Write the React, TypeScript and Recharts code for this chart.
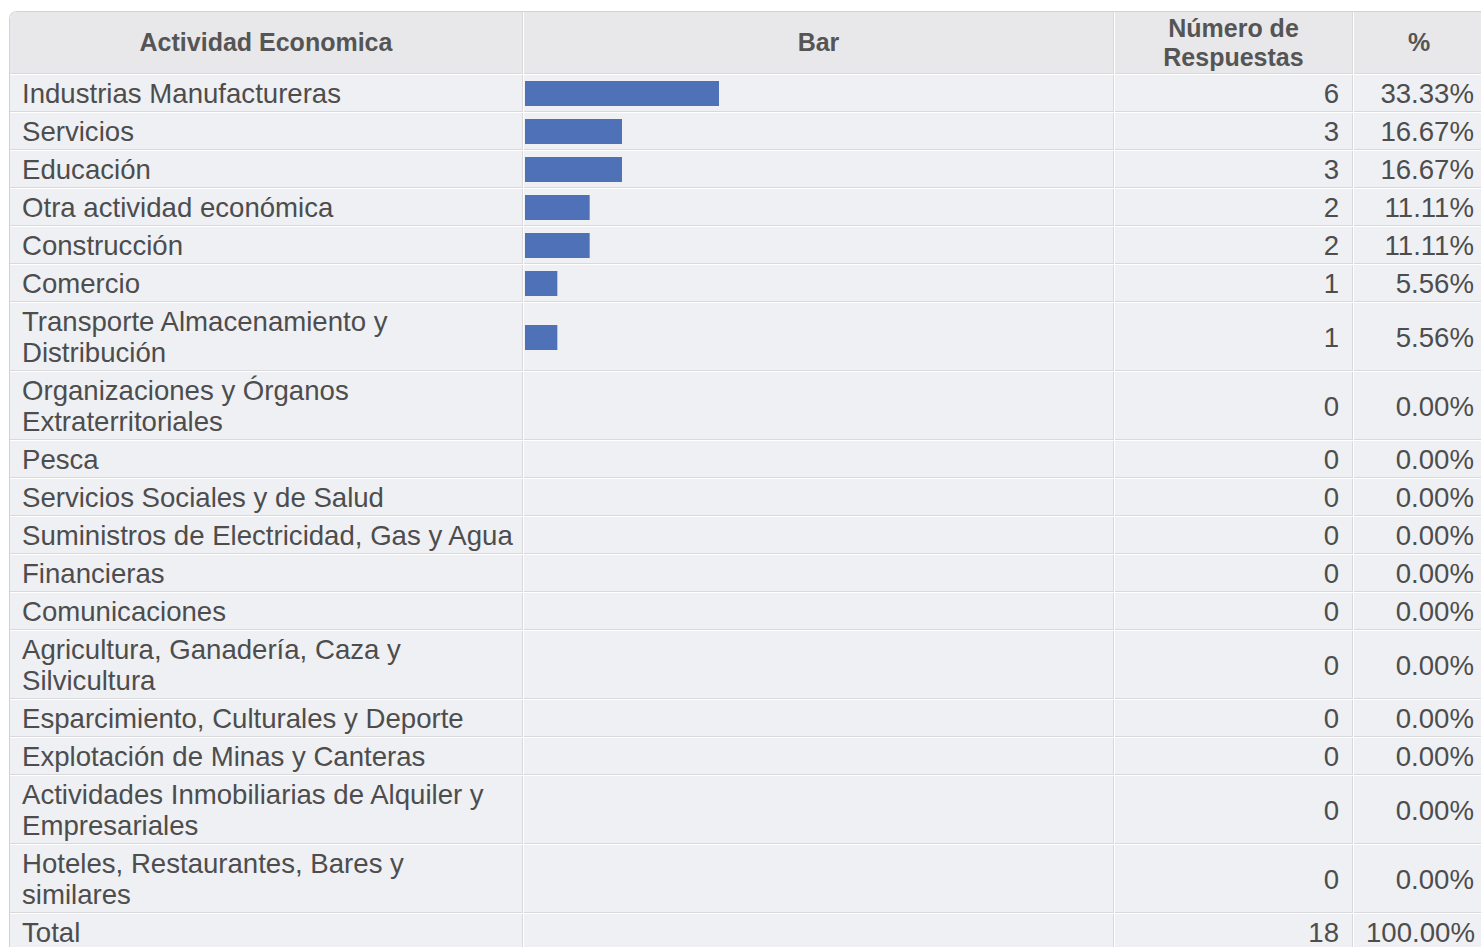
import React from "react";
import { BarChart, Bar, XAxis, YAxis } from "recharts";

const categorias = [
  "Industrias Manufactureras",
  "Servicios",
  "Educación",
  "Otra actividad económica",
  "Construcción",
  "Comercio",
  "Transporte Almacenamiento y Distribución",
  "Organizaciones y Órganos Extraterritoriales",
  "Pesca",
  "Servicios Sociales y de Salud",
  "Suministros de Electricidad, Gas y Agua",
  "Financieras",
  "Comunicaciones",
  "Agricultura, Ganadería, Caza y Silvicultura",
  "Esparcimiento, Culturales y Deporte",
  "Explotación de Minas y Canteras",
  "Actividades Inmobiliarias de Alquiler y Empresariales",
  "Hoteles, Restaurantes, Bares y similares",
];
const respuestas = [6, 3, 3, 2, 2, 1, 1, 0, 0, 0, 0, 0, 0, 0, 0, 0, 0, 0];
const porcentajes = [
  "33.33%", "16.67%", "16.67%", "11.11%", "11.11%", "5.56%", "5.56%",
  "0.00%", "0.00%", "0.00%", "0.00%", "0.00%", "0.00%", "0.00%",
  "0.00%", "0.00%", "0.00%", "0.00%",
];
const encabezados = ["Actividad Economica", "Bar", "Número de Respuestas", "%"];
const totalRespuestas = 18;
const totalPorcentaje = "100.00%";

const FONT = '"Liberation Sans", Arial, Helvetica, sans-serif';
const BAR_COLOR = "#4E71B8";
const CELL_BG = "#EFF0F4";
const HEAD_BG = "#E8E8EA";
const LINE = "#D9D9DC";

const colWidths = [513, 590, 238, 131];

const headCell: React.CSSProperties = {
  boxSizing: "border-box",
  height: 62,
  background: HEAD_BG,
  borderRight: `1px solid ${LINE}`,
  borderBottom: `1px solid ${LINE}`,
  fontWeight: "bold",
  fontSize: 25,
  lineHeight: "29px",
  color: "#555",
  textAlign: "center",
  verticalAlign: "middle",
  padding: "0 10px",
};

const bodyCell: React.CSSProperties = {
  boxSizing: "border-box",
  background: CELL_BG,
  borderRight: `1px solid ${LINE}`,
  borderBottom: `1px solid ${LINE}`,
  fontSize: 27.6,
  lineHeight: "31px",
  color: "#4d4d4d",
  padding: "3px 4px 2px 12px",
  verticalAlign: "middle",
};

function BarCell({ name, value }: { name: string; value: number }) {
  return (
    <BarChart
      width={582}
      height={31}
      layout="vertical"
      data={[{ name, value }]}
      margin={{ top: 0, right: 0, bottom: 0, left: 0 }}
    >
      <XAxis type="number" domain={[0, totalRespuestas]} hide />
      <YAxis type="category" dataKey="name" hide />
      <Bar dataKey="value" fill={BAR_COLOR} barSize={25} isAnimationActive={false} />
    </BarChart>
  );
}

export default function App() {
  return (
    <div
      style={{
        position: "absolute",
        left: 9,
        top: 11,
        borderTop: `1px solid #D2D2D4`,
        borderLeft: `1px solid #D2D2D4`,
        borderTopLeftRadius: 8,
        overflow: "hidden",
        background: "#fff",
        fontFamily: FONT,
      }}
    >
      <table
        style={{
          borderCollapse: "separate",
          borderSpacing: 1,
          tableLayout: "fixed",
          width: 1477,
          margin: -1,
          background: "#fff",
        }}
      >
        <colgroup>
          {colWidths.map((w, i) => (
            <col key={i} style={{ width: w }} />
          ))}
        </colgroup>
        <thead>
          <tr>
            {encabezados.map((h, i) => (
              <th key={i} style={headCell}>{h}</th>
            ))}
          </tr>
        </thead>
        <tbody>
          {categorias.map((c, i) => (
            <tr key={c}>
              <td style={bodyCell}>{c}</td>
              <td style={{ ...bodyCell, padding: "3px 0 2px 1px" }}>
                <BarCell name={c} value={respuestas[i]} />
              </td>
              <td style={{ ...bodyCell, textAlign: "right", paddingRight: 13 }}>{respuestas[i]}</td>
              <td style={{ ...bodyCell, textAlign: "right", paddingRight: 10 }}>{porcentajes[i]}</td>
            </tr>
          ))}
          <tr>
            <td style={bodyCell}>Total</td>
            <td style={bodyCell}></td>
            <td style={{ ...bodyCell, textAlign: "right", paddingRight: 13 }}>{totalRespuestas}</td>
            <td style={{ ...bodyCell, textAlign: "right", paddingRight: 10 }}>{totalPorcentaje}</td>
          </tr>
        </tbody>
      </table>
    </div>
  );
}
